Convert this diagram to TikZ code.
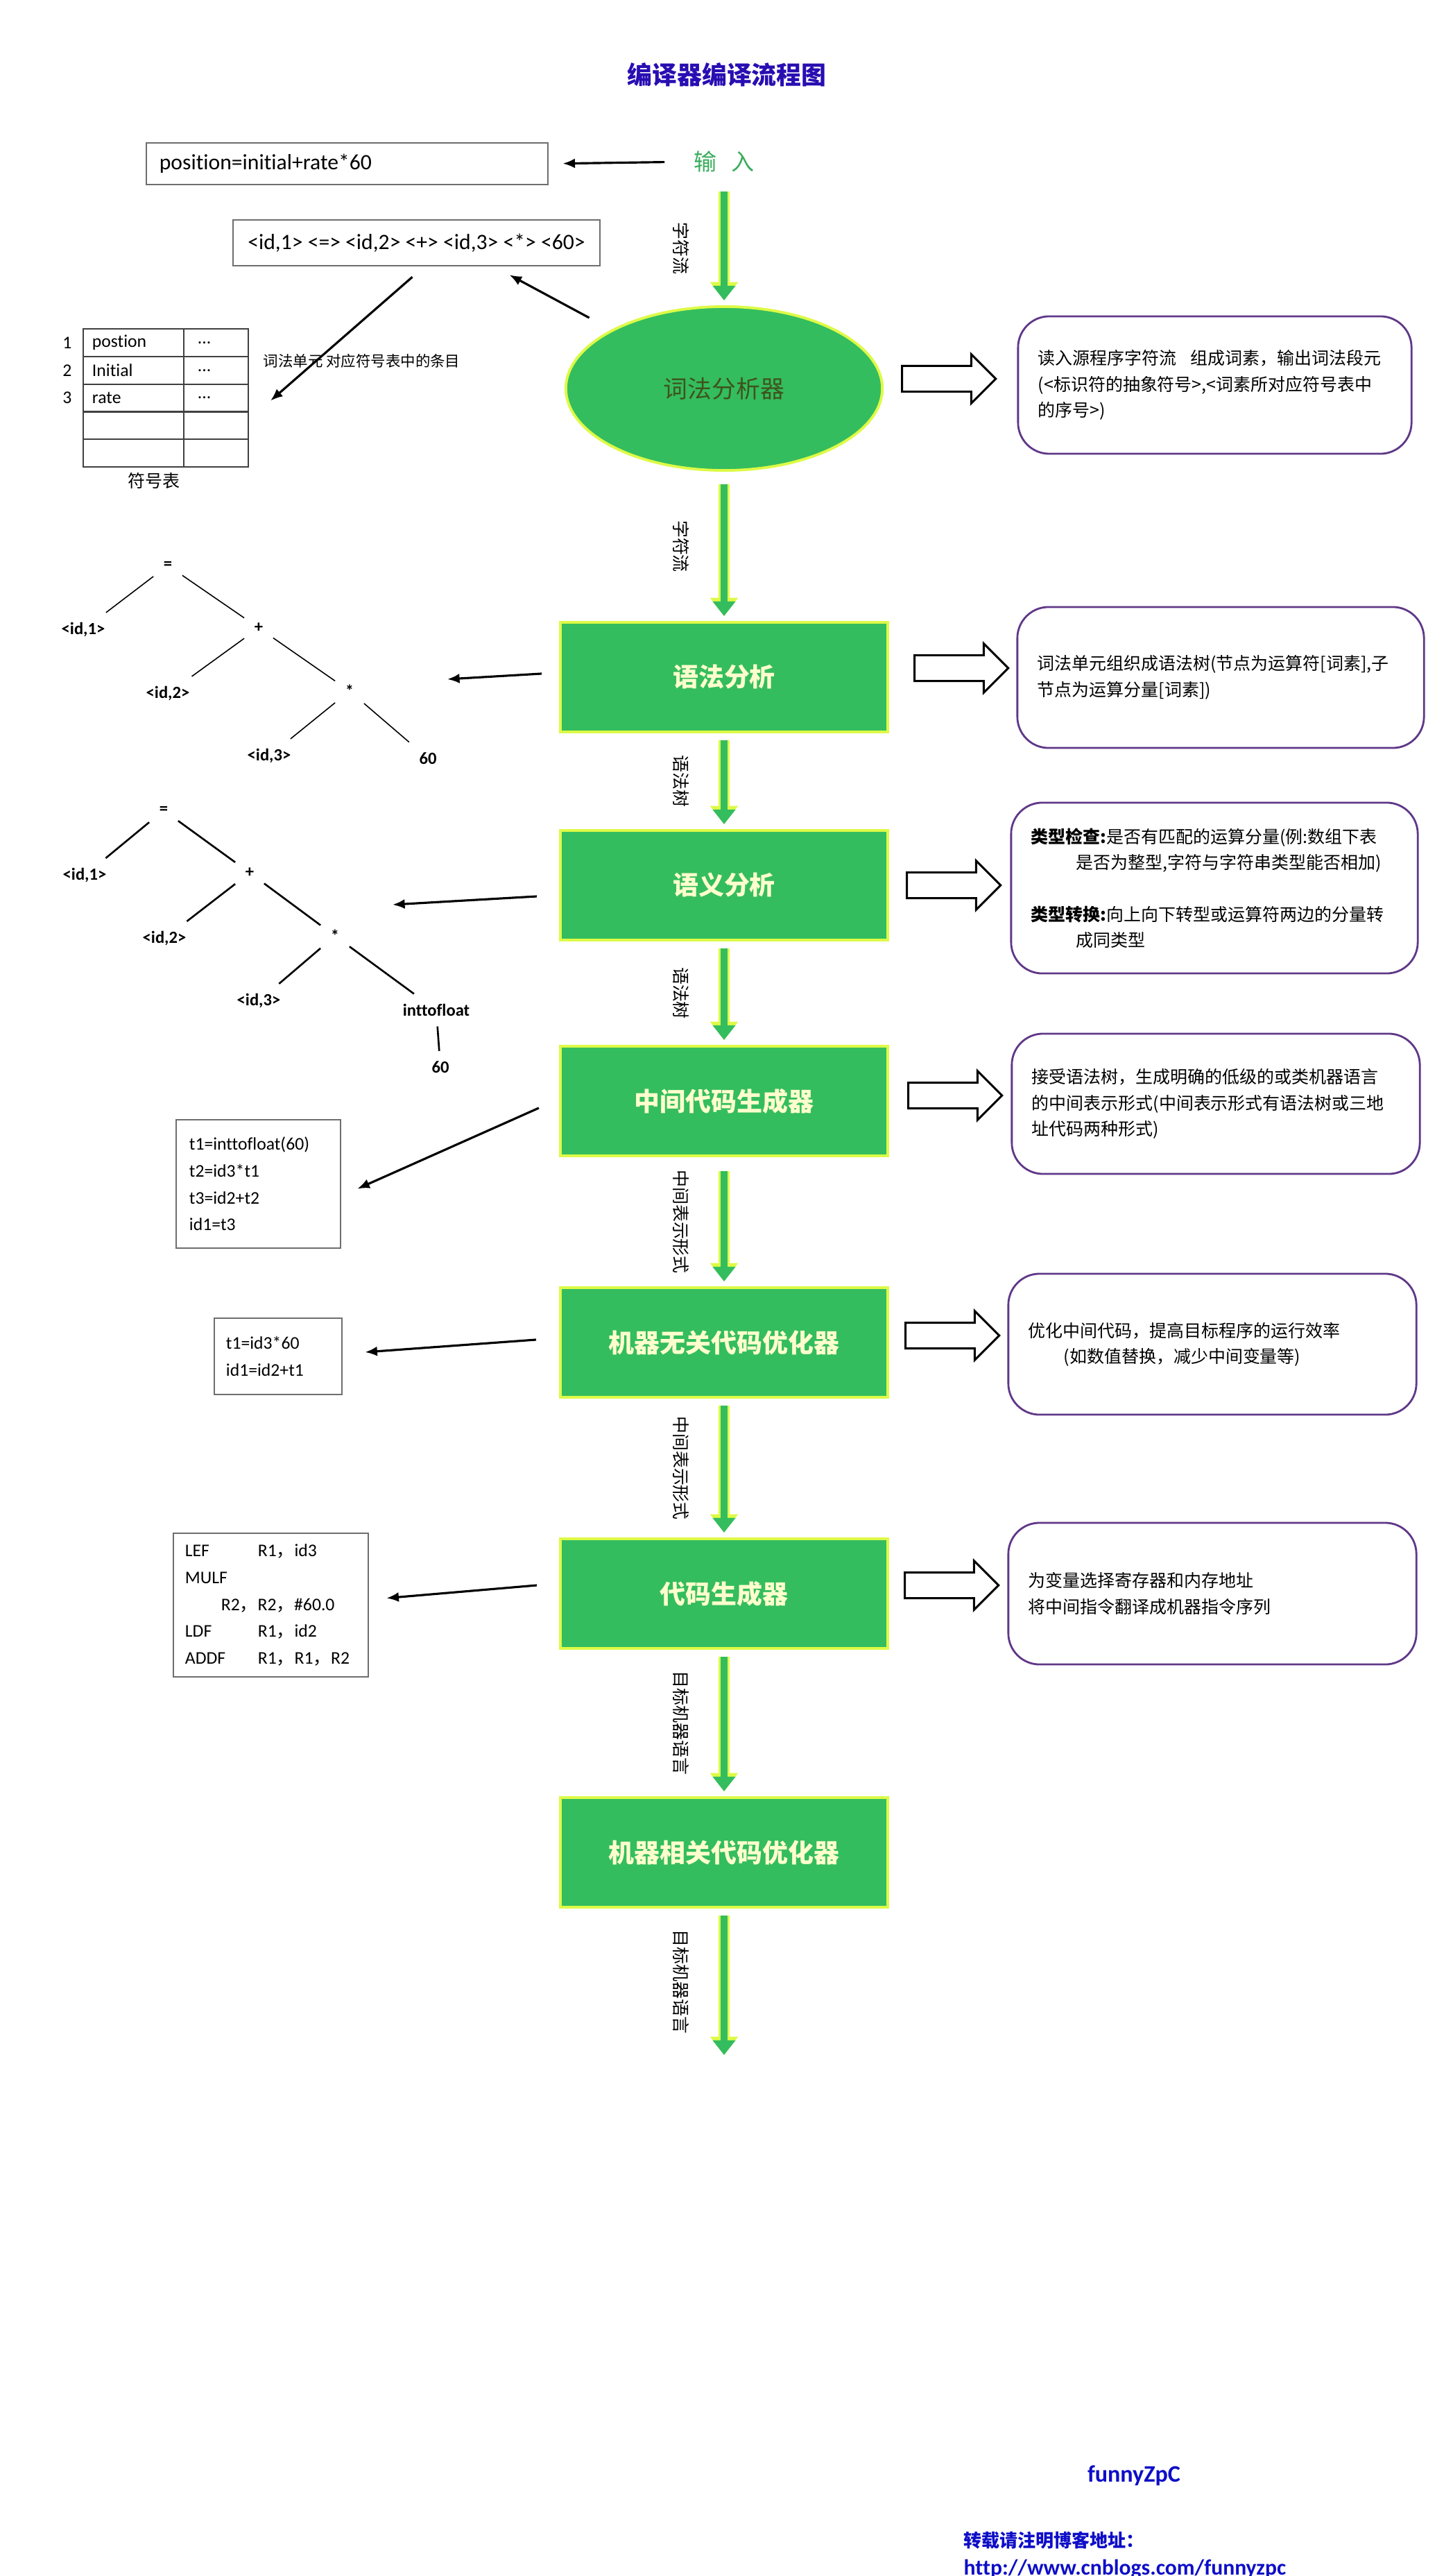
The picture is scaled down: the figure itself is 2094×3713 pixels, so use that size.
\documentclass[tikz,border=0pt]{standalone}
\usepackage{fontspec}
\setmainfont{Carlito}[Ligatures=CommonOff]
\newfontfamily\cjk{Noto Sans CJK SC}
\usetikzlibrary{positioning,shapes.geometric,shapes.arrows,arrows.meta}

\definecolor{flowgreen}{RGB}{52,189,94}
\definecolor{glowyellow}{RGB}{222,250,70}
\definecolor{stagetext}{RGB}{255,255,205}
\definecolor{lextext}{RGB}{62,84,28}
\definecolor{descpurple}{RGB}{96,56,136}
\definecolor{titleblue}{RGB}{40,14,178}
\definecolor{footblue}{RGB}{14,14,200}
\definecolor{inputgreen}{RGB}{58,172,92}
\definecolor{boxgray}{RGB}{110,110,110}

\newcommand{\zhcomma}{{\cjk ，}}
\newcommand{\celldots}{...}

\tikzset{
    stagebox/.style={draw=glowyellow, line width=1.1pt, fill=flowgreen, text=stagetext,
        minimum width=4.72cm, minimum height=1.58cm, font=\cjk\bfseries\fontsize{10.5}{12}\selectfont},
    descbox/.style={draw=descpurple, line width=0.8pt, rounded corners=0.45cm, align=left,
        inner xsep=0.29cm, text width=#1, font=\cjk\fontsize{7.1}{10.6}\selectfont},
    plainbox/.style={draw=boxgray, line width=0.7pt},
    codebox/.style={plainbox, align=left, inner xsep=0.18cm, font=\fontsize{7.3}{11}\selectfont},
    hollowarr/.style={single arrow, draw=black, line width=0.85pt, fill=white,
        inner sep=0.17cm, minimum height=1.35cm, single arrow head extend=0.17cm},
    greenarrow/.style={draw=flowgreen, line width=2.9pt, -{Triangle[width=9pt,length=6pt]},
        shorten <=1mm, shorten >=0.7mm,
        preaction={draw=glowyellow, line width=4.3pt, -{Triangle[width=11pt,length=7.5pt]}}},
    flowlabel/.style={midway, xshift=-6.2mm, rotate=-90, font=\cjk\fontsize{7.1}{8}\selectfont},
    blackarrow/.style={draw=black, line width=0.9pt, -{Latex[length=5pt,width=4pt]}},
    treelbl/.style={font=\bfseries\fontsize{7}{8}\selectfont, inner sep=4pt},
    cella/.style={draw=black!75, line width=0.6pt, minimum width=1.45cm, minimum height=0.398cm,
        text width=1.19cm, inner xsep=0.13cm, inner ysep=0pt, align=left, font=\fontsize{7.3}{8}\selectfont},
    cellb/.style={cella, minimum width=0.93cm, text width=0.53cm, inner xsep=0.2cm}
}

\begin{document}
\begin{tikzpicture}[x=0.01cm, y=-0.01cm]
    \path[fill=white, use as bounding box] (0,0) rectangle (2094,3713);

    % Title and input
    \node[font=\cjk\bfseries\fontsize{10.2}{12}\selectfont, text=titleblue] (title) at (1048,108) {编译器编译流程图};
    \node[font=\cjk\fontsize{9.4}{11}\selectfont, text=inputgreen, inner sep=0pt] (input) at (1044,233) {输\hspace{0.2cm}入};
    \node[plainbox, minimum width=5.79cm, minimum height=0.6cm, text width=5.41cm, inner xsep=0.19cm,
        align=left, font=\fontsize{9}{11}\selectfont] (posbox) at (500.5,236) {position=initial+rate*60};
    \node[plainbox, minimum width=5.29cm, minimum height=0.66cm, font=\fontsize{9}{11}\selectfont]
        (tokbox) at (600.5,350) {<id,1> <=> <id,2> <+> <id,3> <*> <60>};

    % Main stages
    \node[ellipse, draw=glowyellow, line width=1.1pt, fill=flowgreen, minimum width=4.56cm, minimum height=2.36cm,
        font=\cjk\fontsize{9.9}{11}\selectfont, text=lextext] (lex) at (1044,560) {词法分析器};
    \node[stagebox] (synbox) at (1044,976) {语法分析};
    \node[stagebox] (sembox) at (1044,1276) {语义分析};
    \node[stagebox] (icg) at (1044,1587) {中间代码生成器};
    \node[stagebox] (opt1) at (1044,1935) {机器无关代码优化器};
    \node[stagebox] (cg) at (1044,2297) {代码生成器};
    \node[stagebox] (optm) at (1044,2670) {机器相关代码优化器};
    \coordinate (outend) at (1044,2962);

    % Symbol table
    \foreach \i/\nm/\dt/\rowno in {1/postion/\celldots/1, 2/Initial/\celldots/2, 3/rate/\celldots/3, 4/{}/{}/{}, 5/{}/{}/{}} {
        \node[cella] (ra\i) at (192.5,{494+39.8*(\i-1)}) {\nm};
        \node[cellb] (rb\i) at (311.5,{494+39.8*(\i-1)}) {\dt};
        \node[font=\fontsize{7.3}{8}\selectfont] (no\i) at (97,{494+39.8*(\i-1)}) {\rowno};
    }
    \node[anchor=west, inner sep=0pt, font=\cjk\fontsize{6.1}{7}\selectfont] (tablenote) at (379,520) {词法单元 对应符号表中的条目};
    \node[font=\cjk\fontsize{7.1}{8}\selectfont] (tablename) at (222,693) {符号表};

    % Descriptions
    \node[descbox=5.09cm, minimum height=1.98cm] (d1) at (1751.5,555) {读入源程序字符流\kern0.8em 组成词素，输出词法段元\\(<标识符的抽象符号>,<词素所对应符号表中\\的序号>)};
    \node[descbox=5.28cm, minimum height=2.03cm] (d2) at (1760,976.5) {词法单元组织成语法树(节点为运算符[词素],子\\节点为运算分量[词素])};
    \node[descbox=5.28cm, minimum height=2.46cm] (d3) at (1751,1280) {\textbf{类型检查:}是否有匹配的运算分量(例:数组下表\\\hspace*{0.65cm}是否为整型,字符与字符串类型能否相加)\\[10.6pt]\textbf{类型转换:}向上向下转型或运算符两边的分量转\\\hspace*{0.65cm}成同类型};
    \node[descbox=5.30cm, minimum height=2.02cm] (d4) at (1753,1591) {接受语法树，生成明确的低级的或类机器语言\\的中间表示形式(中间表示形式有语法树或三地\\址代码两种形式)};
    \node[descbox=5.30cm, minimum height=2.03cm] (d5) at (1748,1937.5) {优化中间代码，提高目标程序的运行效率\\\hspace*{0.51cm}(如数值替换，减少中间变量等)};
    \node[descbox=5.30cm, minimum height=2.04cm] (d6) at (1748,2297) {为变量选择寄存器和内存地址\\将中间指令翻译成机器指令序列};

    % Hollow arrows
    \node[hollowarr] (h1) at (1359,546) {};
    \node[hollowarr] (h2) at (1377,963) {};
    \node[hollowarr] (h3) at (1366,1276) {};
    \node[hollowarr] (h4) at (1368,1579) {};
    \node[hollowarr] (h5) at (1364,1925) {};
    \node[hollowarr] (h6) at (1363,2285) {};

    % Syntax tree
    \node[treelbl] (t1eq) at (242,815) {=};
    \node[treelbl] (t1a) at (120,908) {<id,1>};
    \node[treelbl] (t1plus) at (373,905) {+};
    \node[treelbl] (t1b) at (242,1000) {<id,2>};
    \node[treelbl] (t1mul) at (504,996) {*};
    \node[treelbl] (t1c) at (388,1090) {<id,3>};
    \node[treelbl] (t1n) at (617,1093) {60};
    \coordinate (t1tip) at (645,979);
    \draw[line width=0.45pt] (t1eq) -- (t1a) (t1eq) -- (t1plus) (t1plus) -- (t1b) (t1plus) -- (t1mul)
        (t1mul) -- (t1c) (t1mul) -- (t1n);

    % Annotated tree
    \node[treelbl] (t2eq) at (236,1168) {=};
    \node[treelbl] (t2a) at (122,1262) {<id,1>};
    \node[treelbl] (t2plus) at (360,1258) {+};
    \node[treelbl] (t2b) at (237,1353) {<id,2>};
    \node[treelbl] (t2mul) at (483,1349) {*};
    \node[treelbl] (t2c) at (373,1443) {<id,3>};
    \node[treelbl] (t2conv) at (629,1456) {inttofloat};
    \node[treelbl] (t2n) at (635,1538) {60};
    \coordinate (t2tip) at (566,1304);
    \draw[line width=0.75pt] (t2eq) -- (t2a) (t2eq) -- (t2plus) (t2plus) -- (t2b) (t2plus) -- (t2mul)
        (t2mul) -- (t2c) (t2mul) -- (t2conv) (t2conv) -- (t2n);

    % Code boxes
    \node[codebox, minimum width=2.37cm, minimum height=1.85cm, text width=1.99cm, inner xsep=0.19cm] (code1) at (372.5,1706.5)
        {t1=inttofloat(60)\\t2=id3*t1\\t3=id2+t2\\id1=t3};
    \node[codebox, minimum width=1.84cm, minimum height=1.1cm, text width=1.50cm, inner xsep=0.17cm] (code2) at (401,1955)
        {t1=id3*60\\id1=id2+t1};
    \node[codebox, minimum width=2.81cm, minimum height=2.07cm, text width=2.47cm, inner xsep=0.17cm] (code3) at (390.5,2313.5)
        {\makebox[1.05cm][l]{LEF}R1\zhcomma id3\\MULF\\\hspace*{0.52cm}R2\zhcomma R2\zhcomma\#60.0\\\makebox[1.05cm][l]{LDF}R1\zhcomma id2\\\makebox[1.05cm][l]{ADDF}R1\zhcomma R1\zhcomma R2};

    % Footer
    \node[font=\bfseries\fontsize{9.7}{11}\selectfont, text=footblue] (sign) at (1635,3568) {funnyZpC};
    \node[anchor=west, inner sep=0pt, font=\cjk\bfseries\fontsize{7.4}{9}\selectfont, text=footblue] (notice) at (1389,3662) {转载请注明博客地址：};
    \node[anchor=west, inner sep=0pt, font=\bfseries\fontsize{9}{11}\selectfont, text=footblue] (blogurl) at (1389,3703) {http://www.cnblogs.com/funnyzpc};

    % Connecting lines
    \draw[greenarrow, shorten <=0pt] ([yshift=-4.3mm]input.center) -- (lex.north) node[flowlabel] {字符流};
    \draw[greenarrow, shorten <=1.8mm] (lex.south) -- (synbox.north) node[flowlabel] {字符流};
    \draw[greenarrow] (synbox.south) -- (sembox.north) node[flowlabel] {语法树};
    \draw[greenarrow] (sembox.south) -- (icg.north) node[flowlabel] {语法树};
    \draw[greenarrow, shorten <=2mm] (icg.south) -- (opt1.north) node[flowlabel] {中间表示形式};
    \draw[greenarrow] (opt1.south) -- (cg.north) node[flowlabel] {中间表示形式};
    \draw[greenarrow] (cg.south) -- (optm.north) node[flowlabel] {目标机器语言};
    \draw[greenarrow, shorten >=0pt] (optm.south) -- (outend) node[flowlabel] {目标机器语言};

    \draw[blackarrow, shorten <=4.2mm, shorten >=2mm] (input.west) -- (posbox.east);
    \draw[blackarrow, shorten <=3.6mm] (lex.north west) -- ([xshift=1.34cm,yshift=-1.2mm]tokbox.south);
    \draw[blackarrow] ([xshift=-0.6mm,yshift=-1.5mm]tokbox.south) -- ([xshift=3.1mm,yshift=-0.4mm]rb3.east);
    \draw[blackarrow] ([xshift=-2.5mm,yshift=0.5mm]synbox.west) -- (t1tip);
    \draw[blackarrow] ([xshift=-3.2mm,yshift=-1.6mm]sembox.west) -- (t2tip);
    \draw[blackarrow] ([xshift=-2.9mm,yshift=-1mm]icg.west) -- ([xshift=2.3mm,yshift=-0.7mm]code1.east);
    \draw[blackarrow] ([xshift=-3.3mm,yshift=0.4mm]opt1.west) -- ([xshift=3.2mm,yshift=0.6mm]code2.east);
    \draw[blackarrow] ([xshift=-3.2mm,yshift=1.2mm]cg.west) -- ([xshift=2.5mm,yshift=1mm]code3.east);
\end{tikzpicture}
\end{document}
